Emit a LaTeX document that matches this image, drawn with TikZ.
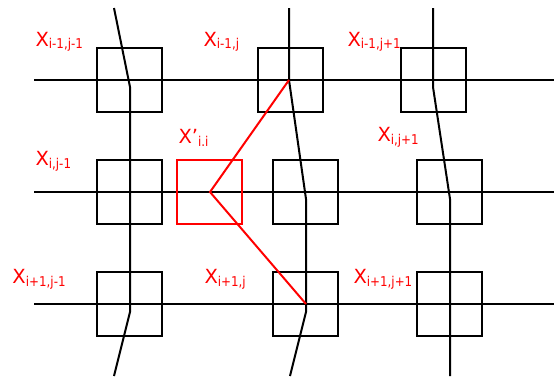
\documentclass[tikz,border=0pt]{standalone}
\usepackage{fontspec}
\setmainfont{DejaVu Sans}
\newfontfamily\mysubfont[FakeStretch=0.88]{DejaVu Sans}
\newcommand\mysub[1]{\raisebox{-2.5pt}{\mysubfont\fontsize{13.5}{13.5}\selectfont #1}}
\begin{document}
\begin{tikzpicture}[x=1pt,y=-1pt,line width=2pt,
  cell/.style={draw=black,line width=2pt,minimum width=65pt,minimum height=64pt,inner sep=0pt,outer sep=0pt},
  redcell/.style={cell,draw=red},
  wire/.style={draw=black,line width=2pt},
  redwire/.style={draw=red,line width=2pt},
  lab/.style={text=red,anchor=base west,inner sep=0pt,font=\fontsize{19.5}{19.5}\selectfont}]
\useasboundingbox (0,0) rectangle (554,376);
% horizontal lines
\coordinate (h1a) at (34,80);  \coordinate (h1b) at (554,80);
\coordinate (h2a) at (34,192); \coordinate (h2b) at (554,192);
\coordinate (h3a) at (34,304); \coordinate (h3b) at (554,304);
\draw[wire] (h1a) -- (h1b);
\draw[wire] (h2a) -- (h2b);
\draw[wire] (h3a) -- (h3b);
% cells
\node[cell] (c11) at (129.5,80) {};
\node[cell] (c12) at (290.5,80) {};
\node[cell] (c13) at (433.5,80) {};
\node[cell] (c21) at (129.5,192) {};
\node[redcell] (c22) at (209.5,192) {};
\node[cell] (c23) at (305.5,192) {};
\node[cell] (c24) at (449.5,192) {};
\node[cell] (c31) at (129.5,304) {};
\node[cell] (c32) at (305.5,304) {};
\node[cell] (c33) at (449.5,304) {};
% vertical lines
\coordinate (v1a) at (114,8); \coordinate (v1b) at (130,87);
\coordinate (v1c) at (130,312); \coordinate (v1d) at (114,376);
\draw[wire] (v1a) -- (v1b) -- (v1c) -- (v1d);
\coordinate (v2a) at (289,8); \coordinate (v2b) at (289,80);
\coordinate (v2c) at (306,199); \coordinate (v2d) at (306,312); \coordinate (v2e) at (290,376);
\draw[wire] (v2a) -- (v2b) -- (v2c) -- (v2d) -- (v2e);
\coordinate (v3a) at (433,8); \coordinate (v3b) at (433,87);
\coordinate (v3c) at (450,199); \coordinate (v3d) at (450,376);
\draw[wire] (v3a) -- (v3b) -- (v3c) -- (v3d);
% red connectors
\coordinate (r0) at (210,192);
\coordinate (r3) at (306,304);
\draw[redwire,line join=miter] (v2b) -- (r0) -- (r3);
% labels
\node[lab] (l1) at (34.5,46) {X\mysub{i-1,j-1}};
\node[lab] (l2) at (202.5,46) {X\mysub{i-1,j}};
\node[lab] (l3) at (346.5,46) {X\mysub{i-1,j+1}};
\node[lab] (l4) at (177.5,143.5) {X’\mysub{i.i}};
\node[lab] (l5) at (34.5,165.5) {X\mysub{i,j-1}};
\node[lab] (l6) at (376.5,141.5) {X\mysub{i,j+1}};
\node[lab] (l7) at (11.5,283.5) {X\mysub{i+1,j-1}};
\node[lab] (l8) at (203.5,283.5) {X\mysub{i+1,j}};
\node[lab] (l9) at (352.5,283.5) {X\mysub{i+1,j+1}};
\end{tikzpicture}
\end{document}
